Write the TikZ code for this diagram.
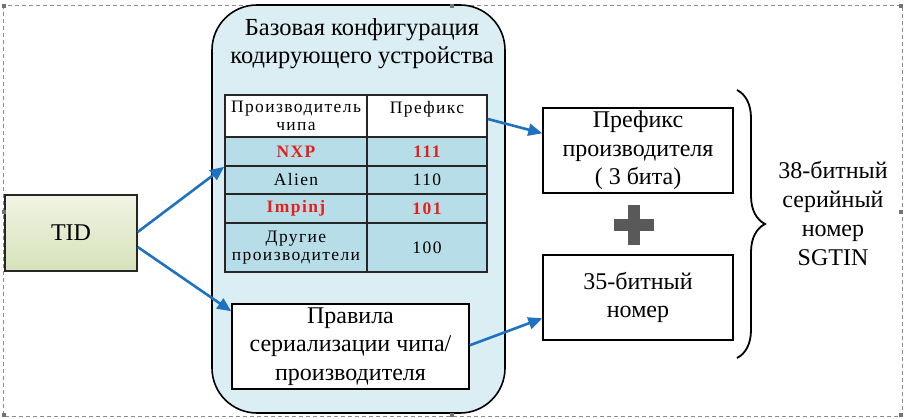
\documentclass[tikz,border=0pt]{standalone}
\usepackage{fontspec}
\setmainfont{Liberation Serif}
\newfontfamily\tblfont[LetterSpace=8]{Liberation Serif}
\usepackage{tikz}
\usetikzlibrary{positioning,arrows.meta,decorations.pathreplacing}
\usepackage{xcolor}
\definecolor{cfgfill}{HTML}{DAEEF3}
\definecolor{rowfill}{HTML}{B7DDE8}
\definecolor{arrblue}{HTML}{1F72C2}
\definecolor{chipred}{HTML}{E3211C}
\definecolor{tidtop}{HTML}{F1F4E3}
\definecolor{tidbot}{HTML}{D6E2BA}
\definecolor{plusgray}{HTML}{595959}

\begin{document}
\begin{tikzpicture}[x=1pt,y=-1pt,>={Triangle[length=14pt,width=12pt]},
  box/.style={draw,line width=1.4pt,fill=white,font=\fontsize{24}{28.5}\selectfont,align=center,inner sep=0pt},
  cell/.style={draw=black!85,line width=1.6pt,inner sep=0pt,font=\tblfont\fontsize{17.5}{17.5}\selectfont,align=center},
  hit/.style={font=\tblfont\bfseries\fontsize{17.5}{17.5}\selectfont,text=chipred},
  arr/.style={->,draw=arrblue,color=arrblue,line width=2.6pt},
  handle/.style={fill=black!55,draw=none,minimum size=4pt,inner sep=0pt}]
\useasboundingbox (0,0) rectangle (912,419);
\draw[black!45,dashed,dash pattern=on 4pt off 3pt,line width=0.8pt] (3,5) rectangle (902,416);

% base configuration
\node[draw,line width=1.6pt,fill=cfgfill,rounded corners=45pt,minimum width=293pt,minimum height=408pt] (cfg) at (358.5,209) {};
\node[font=\fontsize{24.5}{28}\selectfont,align=center] (cfgtitle) at (362,44) {Базовая конфигурация\\кодирующего устройства};

% table
\node[cell,fill=white,minimum width=142pt,minimum height=42pt] (hdrA) at (296,116) {Производитель\\чипа};
\node[cell,fill=white,minimum width=120pt,minimum height=42pt] (hdrB) at (427,116) {Префикс\\\mbox{}};
\node[cell,fill=rowfill,minimum width=142pt,minimum height=29pt,hit] (nxp) at (296,151.5) {NXP};
\node[cell,fill=rowfill,minimum width=120pt,minimum height=29pt,hit] (nxpB) at (427,151.5) {111};
\node[cell,fill=rowfill,minimum width=142pt,minimum height=28pt] (alien) at (296,180) {Alien};
\node[cell,fill=rowfill,minimum width=120pt,minimum height=28pt] (alienB) at (427,180) {110};
\node[cell,fill=rowfill,minimum width=142pt,minimum height=29pt,hit] (impinj) at (296,208.5) {Impinj};
\node[cell,fill=rowfill,minimum width=120pt,minimum height=29pt,hit] (impinjB) at (427,208.5) {101};
\node[cell,fill=rowfill,minimum width=142pt,minimum height=49pt] (other) at (296,247.5) {Другие\\производители};
\node[cell,fill=rowfill,minimum width=120pt,minimum height=49pt] (otherB) at (427,247.5) {100};

\node[box,minimum width=237pt,minimum height=85pt] (rules) at (350.5,346.5) {Правила\\сериализации чипа/\\производителя};

% TID
\node[draw=black!85,line width=1.4pt,top color=tidtop,bottom color=tidbot,minimum width=132pt,minimum height=76pt,font=\fontsize{24}{28}\selectfont] (tid) at (71,233) {TID};

% right side
\node[box,minimum width=190pt,minimum height=85pt] (pref) at (638,150.5) {Префикс\\производителя\\( 3 бита)};
\node[box,minimum width=190pt,minimum height=85pt] (num) at (638,297.5) {35-битный\\номер};
\draw[plusgray,line width=12pt] (614,225) -- (654,225) (634,205) -- (634,245);

\coordinate (bracetop) at (737,90);
\coordinate (bracebot) at (737,358);
\draw[line width=1.8pt,decorate,decoration={brace,amplitude=28pt}] (bracetop) -- (bracebot);
\node[font=\fontsize{24}{29}\selectfont,align=center] (sgtin) at (833,214) {38-битный\\серийный\\номер\\SGTIN};

\draw[arr] ([yshift=1pt]tid.east) -- (nxp.south west);
\draw[arr] ([yshift=-14pt]tid.east) -- ([yshift=-8pt]rules.north west);
\draw[arr] ([yshift=-3pt]hdrB.east) -- ([yshift=-26pt]pref.north west);
\draw[arr] ([yshift=-42pt]rules.north east) -- ([yshift=-64pt]num.north west);

% selection handles
\foreach \hx/\hy [count=\i] in {4/6,452/6,901/6,4/212,901/212,4/415,452/415,901/415}
  \node[handle] (h\i) at (\hx,\hy) {};
\end{tikzpicture}
\end{document}
